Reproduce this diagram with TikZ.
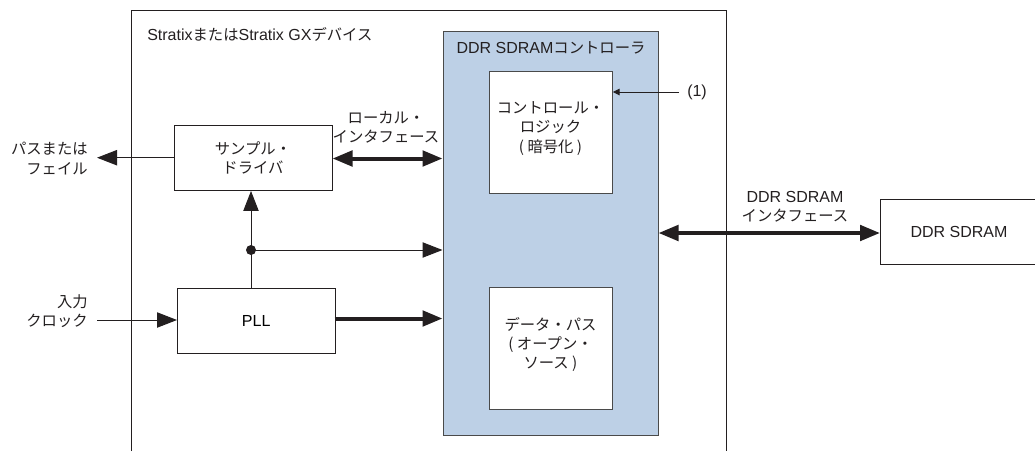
\documentclass[tikz,border=0pt]{standalone}
\usepackage{fontspec}
\setmainfont{Liberation Sans}
\newfontfamily\cjk{Noto Sans CJK JP}
\usetikzlibrary{arrows.meta}
\definecolor{ctrlblue}{HTML}{BDD0E6}
\definecolor{ink}{HTML}{231F20}
\definecolor{boxline}{HTML}{4A4A4A}
\tikzset{
  x=0.75pt,y=-0.75pt,
  blk/.style={draw=ink,line width=0.7pt,fill=white,inner sep=0pt,anchor=north west,align=center},
  lbl/.style={inner sep=0pt,align=center,text=ink,font=\fontsize{11.5}{14.3}\selectfont\cjk},
  thin arrow/.style={draw=ink,line width=0.75pt,-{Triangle[length=15pt,width=11.5pt]}},
  thick arrow/.style={draw=ink,line width=3pt,-{Triangle[length=15pt,width=11.5pt]}},
  thick both/.style={draw=ink,line width=3pt,{Triangle[length=15pt,width=11.5pt]}-{Triangle[length=15pt,width=11.5pt]}},
}
\newcommand{\lat}[1]{{\fontspec{Liberation Sans}\fontsize{12}{14.3}\selectfont #1}}
\begin{document}
\begin{tikzpicture}
\useasboundingbox (0,0) rectangle (1035,451);
\begin{scope}
\clip (0,0) rectangle (1035,451);
\coordinate (outerBL) at (131,451);
\coordinate (outerTL) at (131,10);
\coordinate (outerTR) at (726,10);
\coordinate (outerBR) at (726,451);
\draw[ink,line width=0.75pt] (outerBL) -- (outerTL) -- (outerTR) -- (outerBR);
\node[lbl,anchor=west] (dev) at (147,34) {\lat{Stratix}または\lat{Stratix GX}デバイス};

\node[blk,fill=ctrlblue,draw=boxline,minimum width=215.5*0.75pt,minimum height=404.5*0.75pt] (ctrl) at (442.5,30.5) {};
\node[lbl] (ctrlT) at (551,48) {\lat{DDR SDRAM}コントローラ};
\node[blk,draw=boxline,minimum width=123*0.75pt,minimum height=122*0.75pt] (logic) at (489,71) {};
\node[lbl] (logicT) at (550.5,128.5) {コントロール・\\ロジック\\( 暗号化 )};
\node[blk,draw=boxline,minimum width=123*0.75pt,minimum height=122*0.75pt] (data) at (489,287) {};
\node[lbl] (dataT) at (550.5,344.5) {データ・パス\\( オープン・\\ソース )};

\node[blk,minimum width=158*0.75pt,minimum height=65.5*0.75pt] (drv) at (174,124.5) {};
\node[lbl] (drvT) at (253,157.5) {サンプル・\\ドライバ};
\node[blk,minimum width=157.5*0.75pt,minimum height=65*0.75pt] (pll) at (177,288) {\lat{PLL}};
\node[blk,minimum width=165*0.75pt,minimum height=65*0.75pt] (ram) at (880,199) {};
\node[lbl] (ramLabel) at (959,232) {\lat{DDR SDRAM}};

\node[lbl,align=right,anchor=east] (pass) at (88,158.5) {パスまたは\\フェイル};
\node[lbl,align=right,anchor=east] (clk) at (88,311) {入力\\クロック};
\node[lbl] (localT) at (386,127.5) {ローカル・\\インタフェース};
\node[lbl] (ramT) at (795,207) {\lat{DDR SDRAM}\\インタフェース};
\node[lbl,anchor=west] (one) at (687,92) {\lat{(1)}};

\coordinate (passEnd) at (97,157.7);
\draw[thin arrow] (drv.west |- passEnd) -- (passEnd);
\coordinate (clkStart) at (97,320);
\draw[thin arrow] (clkStart) -- (pll.west |- clkStart);
\coordinate (j) at (251,250);
\draw[thin arrow] (j |- pll.north) -- (j |- drv.south);
\draw[thin arrow] (j) -- (ctrl.west |- j);
\fill[ink] (j) circle (3.75pt);
\coordinate (pl) at (334.5,318.5);
\draw[thick arrow] (pl) -- (ctrl.west |- pl);
\coordinate (lo) at (332.5,158.5);
\draw[thick both] (lo) -- (ctrl.west |- lo);
\coordinate (dd) at (658.5,233);
\draw[thick both] (dd) -- (ram.west |- dd);
\coordinate (oneEnd) at (679,92);
\draw[ink,line width=0.6pt,-{Triangle[length=5pt,width=5pt]}] (oneEnd) -- (logic.east |- oneEnd);
\end{scope}
\end{tikzpicture}
\end{document}
